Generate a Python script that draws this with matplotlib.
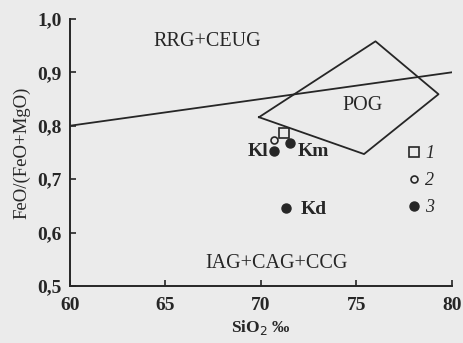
import matplotlib
matplotlib.use('Agg')
import matplotlib.pyplot as plt
from matplotlib.lines import Line2D
from matplotlib.ticker import FuncFormatter

# Граница RRG+CEUG / IAG+CAG+CCG
boundary_x = [60, 80]
boundary_y = [0.80, 0.90]

# Поле POG
pog_x = [69.9, 76.0, 79.3, 75.4, 69.9]
pog_y = [0.816, 0.958, 0.859, 0.747, 0.816]

# Точки: 1 - квадраты, 2 - пустые кружки, 3 - залитые кружки
t1_x = [71.2]
t1_y = [0.787]
t2_x = [70.7]
t2_y = [0.773]
t3_x = [70.7, 71.5, 71.3]
t3_y = [0.752, 0.768, 0.647]

names = ['Kl', 'Km', 'Kd']
name_x = [69.85, 72.75, 72.75]
name_y = [0.751, 0.751, 0.643]

fields = ['RRG+CEUG', 'POG', 'IAG+CAG+CCG']
field_x = [67.2, 75.3, 70.8]
field_y = [0.957, 0.837, 0.543]

legend_labels = ['1', '2', '3']

ink = '#262626'
paper = '#ebebeb'
plt.rcParams['font.family'] = ['Liberation Serif', 'DejaVu Serif']

fig = plt.figure(figsize=(4.63, 3.43), dpi=100, facecolor=paper)
ax = fig.add_axes([0.151, 0.166, 0.825, 0.779], facecolor=paper)

ax.plot(boundary_x, boundary_y, color=ink, lw=1.3)
ax.plot(pog_x, pog_y, color=ink, lw=1.3)

ax.plot(t1_x, t1_y, 's', ms=7, mfc='none', mec=ink, mew=1.2)
ax.plot(t2_x, t2_y, 'o', ms=5, mfc='none', mec=ink, mew=1.2)
ax.plot(t3_x, t3_y, 'o', ms=6.5, color=ink)

for n, x, y in zip(names, name_x, name_y):
    ax.text(x, y, n, ha='center', va='center', fontsize=14, fontweight='bold', color=ink)
for f, x, y in zip(fields, field_x, field_y):
    ax.text(x, y, f, ha='center', va='center', fontsize=14.5, color=ink)

handles = [
    Line2D([], [], ls='none', marker='s', ms=7, mfc='none', mec=ink, mew=1.2),
    Line2D([], [], ls='none', marker='o', ms=5, mfc='none', mec=ink, mew=1.2),
    Line2D([], [], ls='none', marker='o', ms=6.5, color=ink),
]
leg = ax.legend(handles, legend_labels, loc='upper left', bbox_to_anchor=(0.845, 0.587),
                frameon=False, handlelength=0.6, handletextpad=0.3, labelspacing=0.55,
                prop={'style': 'italic', 'size': 13})
for t in leg.get_texts():
    t.set_color(ink)

ax.set_xlim(60, 80)
ax.set_ylim(0.5, 1.0)
ax.set_xticks([60, 65, 70, 75, 80])
ax.set_yticks([0.5, 0.6, 0.7, 0.8, 0.9, 1.0])
ax.yaxis.set_major_formatter(FuncFormatter(lambda v, p: f'{v:.1f}'.replace('.', ',')))
ax.tick_params(direction='in', length=4, width=1.2, colors=ink, labelsize=14)
for lbl in ax.get_xticklabels() + ax.get_yticklabels():
    lbl.set_fontweight('bold')
ax.tick_params(axis='x', pad=8)
ax.tick_params(axis='y', pad=6)

for s in ['top', 'right']:
    ax.spines[s].set_visible(False)
for s in ['left', 'bottom']:
    ax.spines[s].set_color(ink)
    ax.spines[s].set_linewidth(1.4)

ax.set_xlabel('SiO$_2$ ‰', fontsize=12.5, fontweight='bold', color=ink, labelpad=3)
ax.set_ylabel('FeO/(FeO+MgO)', fontsize=13.5, color=ink, labelpad=5)

plt.savefig('out.png', dpi=100, facecolor=paper)
plt.close()
